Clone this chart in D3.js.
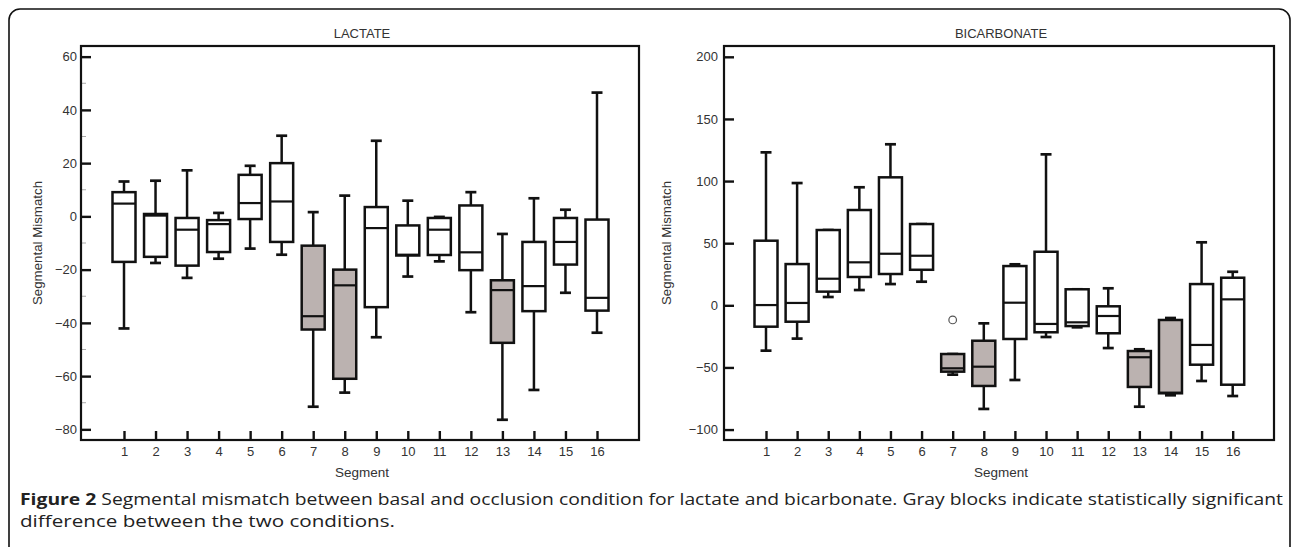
<!DOCTYPE html>
<html>
<head>
<meta charset="utf-8">
<script src="https://cdn.jsdelivr.net/npm/d3@7"></script>
<style>
  html, body { margin: 0; padding: 0; background: #fff; }
  svg { display: block; }
</style>
</head>
<body>
<svg id="chart" width="1292" height="547"></svg>
<script>
// ---------------- DATA ----------------
const segments = [1,2,3,4,5,6,7,8,9,10,11,12,13,14,15,16];

// LACTATE (box plots: lower whisker, Q1, median, Q3, upper whisker)
const lactateLow  = [-42.1, -17.5, -23.1, -15.9, -12.1, -14.4, -71.5, -66.2, -45.4, -22.6, -16.9, -36.0, -76.4, -65.2, -28.7, -43.7];
const lactateQ1   = [-17.1, -15.2, -18.5, -13.4,  -1.0,  -9.6, -42.5, -61.0, -34.1, -14.7, -14.5, -20.2, -47.5, -35.6, -18.1, -35.4];
const lactateMed  = [  4.8,   0.3,  -5.0,  -2.9,   5.0,   5.6, -37.5, -25.9,  -4.4, -14.4,  -5.0, -13.5, -27.7, -26.2,  -9.6, -30.6];
const lactateQ3   = [  9.1,   0.9,  -0.6,  -1.4,  15.6,  20.0, -11.0, -20.0,   3.5,  -3.4,  -0.6,   4.1, -24.0,  -9.6,  -0.6,  -1.2];
const lactateHigh = [ 13.1,  13.4,  17.3,   1.3,  19.0,  30.3,   1.6,   7.8,  28.4,   5.9,  -0.2,   9.1,  -6.6,   6.8,   2.5,  46.5];
const lactateSig  = [false,false,false,false,false,false,true,true,false,false,false,false,true,false,false,false];
const lactateTicks = [-80, -60, -40, -20, 0, 20, 40, 60];
const lactateMinorTicks = [-70, -50, -30, -10, 10, 30, 50];

// BICARBONATE
const bicarbLow  = [-36.5, -26.8,  6.7, 12.3,  17.1, 19.0, -55.8, -83.4, -60.1, -25.5, -17.7, -34.4, -81.6, -72.4, -60.9, -73.0];
const bicarbQ1   = [-17.2, -13.2, 11.0, 22.8,  25.2, 28.6, -53.4, -64.9, -27.1, -21.7, -16.7, -22.5, -65.7, -70.8, -47.8, -63.9];
const bicarbMed  = [  0.2,   1.9, 21.4, 34.6,  41.5, 39.9, -50.7, -49.4,   2.1, -15.0, -13.7,  -8.6, -41.8, -70.3, -31.9,   4.8];
const bicarbQ3   = [ 52.0,  33.2, 60.6, 76.7, 103.0, 65.4, -39.2, -28.5,  31.6,  43.1,  12.9,  -0.8, -36.8, -11.8,  17.1,  22.2];
const bicarbHigh = [123.1,  98.4, 60.6, 95.0, 129.6, 65.4, -39.2, -14.5,  33.0, 121.5,  12.9,  13.7, -35.4, -10.2,  50.7,  27.0];
const bicarbSig  = [false,false,false,false,false,false,true,true,false,false,false,false,true,true,false,false];
const bicarbOutlierSeg = [7];
const bicarbOutlierVal = [-11.8];
const bicarbTicks = [-100, -50, 0, 50, 100, 150, 200];

const panelTitles = ["LACTATE", "BICARBONATE"];
const xAxisLabel = "Segment";
const yAxisLabel = "Segmental Mismatch";
const captionBold = "Figure 2";
const captionLine1 = " Segmental mismatch between basal and occlusion condition for lactate and bicarbonate. Gray blocks indicate statistically significant";
const captionLine2 = "difference between the two conditions.";

// ---------------- DRAW ----------------
const svg = d3.select("#chart");
const textColor = "#333";
const grayFill = "#bbb2b0";
const sansFont = "Liberation Sans, Arial, sans-serif";

// outer rounded frame
svg.append("rect")
  .attr("x", 9).attr("y", 9).attr("width", 1281).attr("height", 570)
  .attr("rx", 11).attr("ry", 11)
  .attr("fill", "none").attr("stroke", "#111").attr("stroke-width", 1.6);

function drawPanel(cfg) {
  const g = svg.append("g");
  const x = d3.scaleLinear().domain([1, 16]).range(cfg.xRange);
  const y = d3.scaleLinear().domain(cfg.yDomain).range([cfg.bottom, cfg.top]);

  // y minor ticks
  if (cfg.minor) {
    g.selectAll(".minor").data(cfg.minor).join("line")
      .attr("x1", cfg.left).attr("x2", cfg.left + 5)
      .attr("y1", d => y(d)).attr("y2", d => y(d))
      .attr("stroke", "#aaa").attr("stroke-width", 1);
  }

  // y axis
  const yAxis = d3.axisLeft(y).tickValues(cfg.yTicks).tickSize(-10).tickPadding(cfg.yPad);
  const ya = g.append("g").attr("transform", `translate(${cfg.left},0)`).call(yAxis);
  ya.select(".domain").remove();
  ya.selectAll("line").attr("stroke", "#111").attr("stroke-width", 2.4);
  ya.selectAll("text").attr("fill", textColor)
    .style("font-family", sansFont).style("font-size", "13px");

  // x axis
  const xAxis = d3.axisBottom(x).tickValues(segments).tickSize(-9).tickPadding(7);
  const xa = g.append("g").attr("transform", `translate(0,${cfg.bottom})`).call(xAxis);
  xa.select(".domain").remove();
  xa.selectAll("line").attr("stroke", "#111").attr("stroke-width", 2.4);
  xa.selectAll("text").attr("fill", textColor)
    .style("font-family", sansFont).style("font-size", "13px");

  // frame
  g.append("rect")
    .attr("x", cfg.left).attr("y", cfg.top)
    .attr("width", cfg.right - cfg.left).attr("height", cfg.bottom - cfg.top)
    .attr("fill", "none").attr("stroke", "#111").attr("stroke-width", 2.2);

  const bw = 23, cw = 11;
  const boxes = segments.map((s, i) => ({
    s, lo: cfg.low[i], q1: cfg.q1[i], med: cfg.med[i], q3: cfg.q3[i], hi: cfg.high[i], sig: cfg.sig[i]
  }));
  const bg = g.selectAll(".box").data(boxes).join("g");
  // whiskers
  bg.append("line")
    .attr("x1", d => x(d.s)).attr("x2", d => x(d.s))
    .attr("y1", d => y(d.hi)).attr("y2", d => y(d.q3))
    .attr("stroke", "#111").attr("stroke-width", 2.5);
  bg.append("line")
    .attr("x1", d => x(d.s)).attr("x2", d => x(d.s))
    .attr("y1", d => y(d.q1)).attr("y2", d => y(d.lo))
    .attr("stroke", "#111").attr("stroke-width", 2.5);
  // caps
  bg.append("line")
    .attr("x1", d => x(d.s) - cw / 2).attr("x2", d => x(d.s) + cw / 2)
    .attr("y1", d => y(d.hi)).attr("y2", d => y(d.hi))
    .attr("stroke", "#111").attr("stroke-width", 2.7);
  bg.append("line")
    .attr("x1", d => x(d.s) - cw / 2).attr("x2", d => x(d.s) + cw / 2)
    .attr("y1", d => y(d.lo)).attr("y2", d => y(d.lo))
    .attr("stroke", "#111").attr("stroke-width", 2.7);
  // box
  bg.append("rect")
    .attr("x", d => x(d.s) - bw / 2).attr("width", bw)
    .attr("y", d => y(d.q3)).attr("height", d => Math.max(1, y(d.q1) - y(d.q3)))
    .attr("fill", d => d.sig ? grayFill : "#fff")
    .attr("stroke", "#111").attr("stroke-width", 2.5);
  // median
  bg.append("line")
    .attr("x1", d => x(d.s) - bw / 2).attr("x2", d => x(d.s) + bw / 2)
    .attr("y1", d => y(d.med)).attr("y2", d => y(d.med))
    .attr("stroke", "#111").attr("stroke-width", 2.2);

  // outliers
  if (cfg.outSeg) {
    g.selectAll(".out").data(cfg.outSeg.map((s, i) => ({ s, v: cfg.outVal[i] }))).join("circle")
      .attr("cx", d => x(d.s)).attr("cy", d => y(d.v)).attr("r", 3.8)
      .attr("fill", "#fff").attr("stroke", "#555").attr("stroke-width", 1.2);
  }

  const cx = (cfg.left + cfg.right) / 2 + 2;
  // title
  g.append("text").attr("x", cx).attr("y", 37.5).attr("text-anchor", "middle")
    .attr("fill", textColor)
    .style("font-family", sansFont).style("font-size", "13px")
    .text(cfg.title);
  // x label
  g.append("text").attr("x", cx).attr("y", 477).attr("text-anchor", "middle")
    .attr("fill", textColor)
    .style("font-family", sansFont).style("font-size", "13.5px")
    .text(xAxisLabel);
  // y label
  g.append("text")
    .attr("transform", `translate(${cfg.yLabelX},${(cfg.top + cfg.bottom) / 2}) rotate(-90)`)
    .attr("text-anchor", "middle").attr("fill", textColor)
    .style("font-family", sansFont).style("font-size", "13.3px")
    .text(yAxisLabel);
}

drawPanel({
  title: panelTitles[0], left: 81, right: 639, top: 46, bottom: 440,
  xRange: [124, 597], yDomain: [-84, 64], yTicks: lactateTicks, minor: lactateMinorTicks,
  low: lactateLow, q1: lactateQ1, med: lactateMed, q3: lactateQ3, high: lactateHigh, sig: lactateSig,
  yLabelX: 42, yPad: 4
});
drawPanel({
  title: panelTitles[1], left: 724, right: 1274, top: 46, bottom: 440,
  xRange: [766, 1232.7], yDomain: [-108.4, 208.7], yTicks: bicarbTicks, minor: null,
  low: bicarbLow, q1: bicarbQ1, med: bicarbMed, q3: bicarbQ3, high: bicarbHigh, sig: bicarbSig,
  outSeg: bicarbOutlierSeg, outVal: bicarbOutlierVal,
  yLabelX: 671, yPad: 6
});

// caption
const cap = svg.append("text").attr("x", 20).attr("y", 505)
  .attr("fill", "#222")
  .style("font-family", "Open Sans, Noto Sans, sans-serif").style("font-size", "15.5px")
  .attr("textLength", 1263).attr("lengthAdjust", "spacingAndGlyphs");
cap.append("tspan").style("font-weight", "bold").text(captionBold);
cap.append("tspan").text(captionLine1);
svg.append("text").attr("x", 20).attr("y", 527)
  .attr("fill", "#222")
  .style("font-family", "Open Sans, Noto Sans, sans-serif").style("font-size", "15.5px")
  .attr("textLength", 375).attr("lengthAdjust", "spacingAndGlyphs")
  .text(captionLine2);
</script>
</body>
</html>
